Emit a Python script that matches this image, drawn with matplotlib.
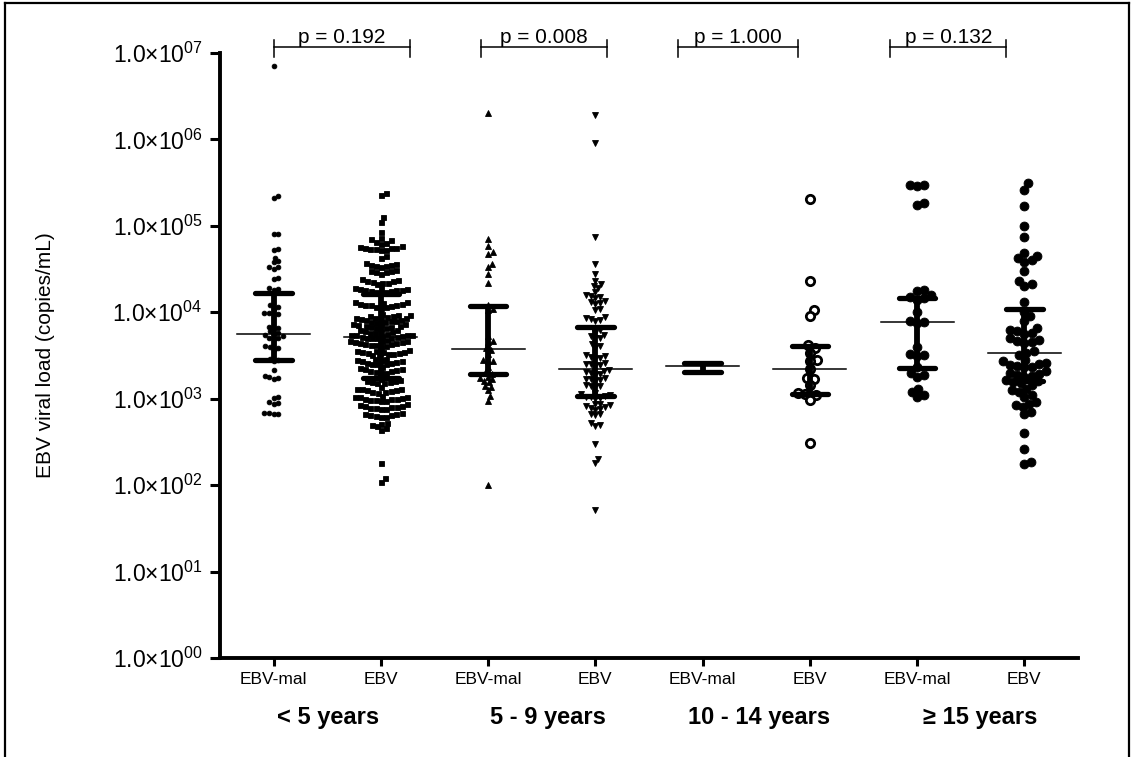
import numpy as np
import matplotlib
matplotlib.use("Agg")
import matplotlib.pyplot as plt
from matplotlib.lines import Line2D
from matplotlib.ticker import FixedLocator, NullLocator

plt.rcParams["font.family"] = ["Liberation Sans", "DejaVu Sans"]
plt.rcParams["mathtext.fontset"] = "custom"
plt.rcParams["mathtext.rm"] = "Liberation Sans"

TICK_LABELS = ["EBV-mal", "EBV"] * 4
AGE_GROUPS = ["< 5 years", "5 - 9 years", "10 - 14 years", "≥ 15 years"]
P_VALUES = ["p = 0.192", "p = 0.008", "p = 1.000", "p = 0.132"]

# viral load, copies/mL
lt5_mal = [7.0e6, 2.2e5, 2.1e5, 8.1e4, 8.0e4, 5.4e4, 5.2e4, 4.3e4, 3.9e4, 3.8e4,
           3.3e4, 3.3e4, 3.2e4, 2.5e4, 2.4e4, 1.9e4, 1.85e4, 1.8e4, 1.2e4, 1.15e4,
           1.1e4, 9.9e3, 9.8e3, 9.6e3, 9.5e3, 6.8e3, 6.6e3, 6.5e3, 6.0e3, 5.8e3,
           5.6e3, 5.5e3, 5.3e3, 5.1e3, 5.0e3, 4.9e3, 4.1e3, 4.0e3, 3.9e3, 3.7e3,
           2.9e3, 2.8e3, 2.7e3, 2.15e3, 1.85e3, 1.8e3, 1.75e3, 1.7e3, 1.05e3, 1.02e3,
           9.2e2, 9.0e2, 8.8e2, 6.9e2, 6.8e2, 6.7e2, 6.6e2]
lt5_ebv = [2.4e5, 2.3e5, 1.25e5, 1.1e5, 8.6e4,
           7.2e4, 7.0e4, 6.8e4, 6.5e4, 6.3e4, 6.2e4,
           5.8e4, 5.7e4, 5.6e4, 5.5e4, 5.5e4, 5.4e4, 5.4e4, 5.3e4, 5.2e4,
           4.5e4, 4.3e4,
           3.7e4, 3.6e4, 3.5e4, 3.5e4, 3.4e4, 3.4e4, 3.3e4,
           3.1e4, 3.0e4, 3.0e4, 2.9e4, 2.9e4, 2.8e4,
           2.4e4, 2.35e4, 2.3e4, 2.3e4, 2.25e4, 2.2e4, 2.2e4, 2.1e4,
           1.9e4, 1.9e4, 1.85e4, 1.85e4, 1.8e4, 1.8e4, 1.8e4, 1.75e4, 1.75e4, 1.7e4, 1.7e4, 1.65e4,
           1.3e4, 1.3e4, 1.28e4, 1.25e4, 1.25e4, 1.22e4, 1.2e4, 1.2e4, 1.18e4, 1.15e4, 1.15e4, 1.12e4,
           9.5e3, 9.3e3, 9.2e3, 9.0e3, 9.0e3, 8.8e3, 8.7e3, 8.6e3, 8.5e3, 8.4e3, 8.3e3, 8.2e3,
           8.1e3, 8.0e3, 7.9e3, 7.8e3, 7.7e3, 7.6e3,
           7.4e3, 7.3e3, 7.2e3, 7.1e3, 7.0e3, 6.9e3, 6.8e3, 6.7e3, 6.6e3, 6.5e3,
           6.3e3, 6.2e3, 6.1e3, 6.0e3, 5.9e3, 5.8e3, 5.7e3, 5.6e3, 5.5e3, 5.5e3, 5.4e3, 5.4e3,
           5.3e3, 5.3e3, 5.2e3, 5.2e3, 5.1e3, 5.1e3, 5.0e3, 5.0e3,
           4.8e3, 4.7e3, 4.6e3, 4.6e3, 4.5e3, 4.5e3, 4.4e3, 4.4e3, 4.3e3, 4.3e3, 4.2e3, 4.2e3,
           4.1e3, 4.0e3,
           3.7e3, 3.6e3, 3.6e3, 3.5e3, 3.5e3, 3.5e3, 3.4e3, 3.4e3, 3.3e3, 3.3e3, 3.2e3, 3.2e3,
           2.9e3, 2.85e3, 2.8e3, 2.8e3, 2.7e3, 2.7e3, 2.65e3, 2.6e3, 2.6e3, 2.55e3, 2.5e3, 2.5e3,
           2.3e3, 2.25e3, 2.2e3, 2.2e3, 2.15e3, 2.1e3, 2.1e3, 2.05e3, 2.0e3, 2.0e3,
           1.7e3, 1.65e3, 1.6e3, 1.6e3, 1.55e3, 1.55e3, 1.5e3, 1.5e3,
           1.35e3, 1.3e3, 1.3e3, 1.28e3, 1.25e3, 1.25e3, 1.22e3, 1.2e3, 1.2e3, 1.18e3,
           1.08e3, 1.06e3, 1.05e3, 1.04e3, 1.02e3, 1.0e3, 1.0e3, 9.8e2, 9.7e2, 9.6e2, 9.5e2, 9.4e2,
           8.6e2, 8.4e2, 8.3e2, 8.2e2, 8.1e2, 8.0e2, 7.9e2, 7.8e2, 7.7e2, 7.6e2,
           6.8e2, 6.7e2, 6.6e2, 6.5e2, 6.4e2, 6.3e2, 6.2e2, 6.1e2,
           5.3e2, 5.1e2, 5.0e2, 4.8e2, 4.6e2, 4.4e2,
           1.8e2, 1.2e2, 1.1e2]
y5_9_mal = [2.0e6, 7.0e4, 5.8e4, 5.0e4, 4.7e4, 3.6e4, 3.3e4, 2.8e4, 2.2e4, 1.2e4,
            1.1e4, 1.05e4, 5.3e3, 4.7e3, 4.5e3, 3.9e3, 3.7e3, 3.3e3, 2.8e3, 2.75e3,
            2.7e3, 2.3e3, 2.0e3, 1.95e3, 1.8e3, 1.75e3, 1.7e3, 1.6e3, 1.55e3, 1.4e3,
            1.38e3, 1.25e3, 1.07e3, 9.5e2, 1.0e2]
y5_9_ebv = [1.9e6, 9.0e5, 7.5e4, 3.6e4, 2.8e4, 2.3e4, 2.1e4, 2.0e4, 1.9e4, 1.7e4,
            1.6e4, 1.55e4, 1.5e4, 1.45e4, 1.35e4, 1.3e4, 1.28e4, 1.25e4, 1.1e4, 1.05e4,
            8.8e3, 8.6e3, 8.4e3, 8.2e3, 8.0e3, 6.5e3, 6.2e3, 5.8e3, 5.5e3, 5.3e3,
            5.1e3, 5.0e3, 4.3e3, 4.1e3, 3.9e3, 3.2e3, 3.1e3, 3.0e3, 2.95e3, 2.9e3,
            2.6e3, 2.55e3, 2.5e3, 2.45e3, 2.4e3, 2.15e3, 2.1e3, 2.05e3, 2.0e3, 1.95e3,
            1.9e3, 1.75e3, 1.7e3, 1.68e3, 1.65e3, 1.6e3, 1.45e3, 1.42e3, 1.4e3, 1.35e3,
            1.15e3, 1.12e3, 1.1e3, 1.08e3, 1.06e3, 1.04e3, 1.02e3, 1.0e3, 8.8e2, 8.6e2,
            8.4e2, 8.2e2, 8.0e2, 7.8e2, 7.6e2, 7.5e2, 6.7e2, 6.6e2, 6.5e2, 5.2e2,
            5.0e2, 4.8e2, 3.0e2, 2.0e2, 1.8e2, 5.2e1]
y10_14_mal = [2.6e3, 2.1e3]
y10_14_ebv = [2.05e5, 2.3e4, 1.05e4, 9.0e3, 4.2e3, 3.9e3, 3.4e3, 2.8e3, 2.75e3, 2.2e3,
              1.75e3, 1.7e3, 1.45e3, 1.15e3, 1.13e3, 1.1e3, 9.7e2, 3.1e2]
ge15_mal = [3.0e5, 2.95e5, 2.9e5, 1.85e5, 1.75e5, 1.8e4, 1.75e4, 1.6e4, 1.5e4, 1.45e4,
            1.4e4, 1.0e4, 8.0e3, 7.8e3, 7.6e3, 4.0e3, 3.3e3, 3.2e3, 3.1e3, 2.3e3,
            2.0e3, 1.9e3, 1.8e3, 1.3e3, 1.2e3, 1.1e3, 1.05e3]
ge15_ebv = [3.1e5, 2.6e5, 1.7e5, 1.0e5, 7.5e4, 4.8e4, 4.5e4, 4.2e4, 4.0e4, 3.8e4,
            3.0e4, 2.3e4, 2.1e4, 2.0e4, 1.3e4, 1.0e4, 9.0e3, 8.0e3, 6.6e3, 6.2e3,
            6.0e3, 5.8e3, 5.6e3, 5.0e3, 4.8e3, 4.6e3, 4.5e3, 4.4e3, 3.6e3, 3.4e3,
            3.2e3, 2.8e3, 2.7e3, 2.6e3, 2.5e3, 2.45e3, 2.4e3, 2.35e3, 2.3e3, 2.1e3,
            2.0e3, 1.95e3, 1.9e3, 1.85e3, 1.8e3, 1.65e3, 1.6e3, 1.55e3, 1.5e3, 1.45e3,
            1.3e3, 1.25e3, 1.2e3, 1.1e3, 1.05e3, 9.2e2, 8.8e2, 8.4e2, 8.0e2, 7.0e2,
            6.6e2, 4.0e2, 2.6e2, 1.85e2, 1.75e2]

GROUPS = [lt5_mal, lt5_ebv, y5_9_mal, y5_9_ebv, y10_14_mal, y10_14_ebv, ge15_mal, ge15_ebv]
MEDIANS = [5.6e3, 5.2e3, 3.8e3, 2.2e3, 2.4e3, 2.2e3, 7.7e3, 3.4e3]
Q1 = [2.8e3, 1.74e3, 1.95e3, 1.07e3, 2.05e3, 1.14e3, 2.27e3, 1.6e3]
Q3 = [1.67e4, 1.63e4, 1.17e4, 6.8e3, 2.6e3, 4.1e3, 1.46e4, 1.09e4]

# marker, size (pt), face, swarm spacing (px)
STYLES = [("o", 3.4, "k", 4.8), ("s", 3.6, "k", 5.3), ("^", 3.8, "k", 5.0),
          ("v", 3.8, "k", 5.0), ("o", 3.0, "k", 4.6), ("o", 6.0, "w", 7.4),
          ("o", 6.4, "k", 7.4), ("o", 6.4, "k", 7.4)]
BRACKET_X = [(1.0, 2.27), (2.93, 4.11), (4.77, 5.89), (6.75, 7.83)]
LABEL_X = [1.505, 3.56, 5.53, 7.59]


def swarm(y_px, d):
    xs = np.zeros(len(y_px))
    placed = []
    for i in np.argsort(y_px):
        y = y_px[i]
        near = [(px, py) for px, py in placed if abs(py - y) < d]
        cands = [0.0]
        for px, py in near:
            dx = np.sqrt(d * d - (py - y) ** 2)
            cands += [px + dx, px - dx]
        cands.sort(key=abs)
        for c in cands:
            if all((c - px) ** 2 + (y - py) ** 2 >= d * d - 1e-6 for px, py in near):
                xs[i] = c
                break
        placed.append((xs[i], y))
    return xs


W, H = 1133, 757
fig = plt.figure(figsize=(W / 100, H / 100), dpi=100)
ax = fig.add_axes([220 / W, 1 - 658 / H, 858 / W, 605 / H])
ax.set_yscale("log")
ax.set_ylim(1, 1e7)
ax.set_xlim(0.5, 8.5)

px_per_unit = ax.transData.transform([[1, 1]])[0, 0] - ax.transData.transform([[0, 1]])[0, 0]
positions = np.arange(1, 9)

for pos, vals, (mk, ms, fc, d) in zip(positions, GROUPS, STYLES):
    vals = np.array(vals)
    y_px = ax.transData.transform(np.column_stack([np.full(len(vals), pos), vals]))[:, 1]
    xoff = swarm(y_px, d) / px_per_unit
    ax.plot(pos + xoff, vals, ls="none", marker=mk, ms=ms, mfc=fc, mec="k",
            mew=2.0 if fc == "w" else 0.6, zorder=2)

for pos, med, lo, hi in zip(positions, MEDIANS, Q1, Q3):
    ax.plot([pos, pos], [lo, hi], color="k", lw=4.2, solid_capstyle="butt", zorder=3)
    for v in (lo, hi):
        ax.plot([pos - 0.17, pos + 0.17], [v, v], color="k", lw=3.8,
                solid_capstyle="round", zorder=3)
    ax.plot([pos - 0.34, pos + 0.34], [med, med], color="k", lw=1.1, zorder=3)

xt = ax.get_xaxis_transform()
for (x0, x1), p in zip(BRACKET_X, P_VALUES):
    ax.plot([x0, x1], [1.010, 1.010], color="k", lw=1.1, transform=xt, clip_on=False)
    for x in (x0, x1):
        ax.plot([x, x], [0.994, 1.022], color="k", lw=1.1, transform=xt, clip_on=False)
    ax.text((x0 + x1) / 2, 1.0105, p, transform=xt, ha="center", va="bottom", fontsize=15)

for x, lab in zip(LABEL_X, AGE_GROUPS):
    ax.text(x, -0.098, lab, transform=xt, ha="center", va="center",
            fontsize=17, fontweight="bold")

ax.yaxis.set_major_locator(FixedLocator([10.0 ** e for e in range(8)]))
ax.yaxis.set_minor_locator(NullLocator())
ax.set_yticklabels([f"1.0×10$^{{{e:02d}}}$" for e in range(8)])
ax.set_xticks(positions)
ax.set_xticklabels(TICK_LABELS)

for s in ("top", "right"):
    ax.spines[s].set_visible(False)
for s in ("left", "bottom"):
    ax.spines[s].set_linewidth(2.8)
ax.tick_params(axis="y", length=7.5, width=2.2, labelsize=16.5, pad=5)
ax.tick_params(axis="x", length=6, width=2.2, labelsize=12.5, pad=4)

ax.set_ylabel("EBV viral load (copies/mL)", fontsize=15)
ax.yaxis.set_label_coords(-0.192, 0.5)

# outer frame of the figure panel
fx0, fx1, fy1 = 5 / W, 1129 / W, 1 - 3 / H
for xs_, ys_ in (([fx0, fx0], [0, fy1]), ([fx0, fx1], [fy1, fy1]), ([fx1, fx1], [0, fy1])):
    fig.add_artist(Line2D(xs_, ys_, color="k", lw=1.6))

fig.savefig("out.png", dpi=100)
